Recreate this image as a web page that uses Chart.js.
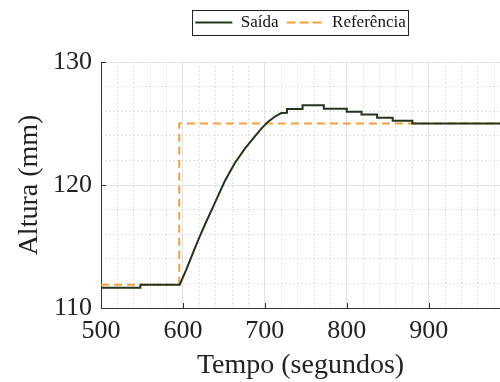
<!DOCTYPE html>
<html>
<head>
<meta charset="utf-8">
<script src="https://cdn.jsdelivr.net/npm/chart.js@4.4.0/dist/chart.umd.min.js"></script>
<style>
    html, body { margin: 0; padding: 0; background: #fff; }
    #wrap { width: 500px; height: 382px; position: relative; }
</style>
</head>
<body>
<div id="wrap"><canvas id="chart"></canvas></div>
<script>
const tempoSaida = [500, 548, 548, 596, 604, 612, 620, 628, 639, 651, 663, 675.6, 687.8, 696, 704,
    712, 720, 727, 727, 746, 746, 772, 772, 800, 800, 818, 818, 837, 837, 856, 856, 880, 880, 990]
const saida = [111.65, 111.65, 111.9, 111.9, 113.1, 114.45, 115.75, 116.95, 118.55, 120.3, 121.75, 122.95, 123.95, 124.6, 125.15,
    125.55, 125.85, 125.87, 126.17, 126.17, 126.49, 126.49, 126.19, 126.19, 125.95, 125.95, 125.73, 125.73, 125.46, 125.46,
    125.22, 125.22, 125.0, 125.0]

// reference step
const tempoRef = [500, 595.5, 595.5, 990]
const referencia = [111.9, 111.9, 125, 125]

// ticks
const xTicks = [500, 600, 700, 800, 900]
const xMinorTicks = [520, 540, 560, 580, 620, 640, 660, 680, 720, 740, 760, 780, 820, 840, 860, 880, 920, 940, 960, 980]
const yTicks = [110, 120, 130]
const yMinorTicks = [112, 114, 116, 118, 122, 124, 126, 128]

const serif = 'Liberation Serif'
const toPoints = (xs, ys) => xs.map((x, i) => ({ x: x, y: ys[i] }))
const setTicks = list => axis => { axis.ticks = list.map(v => ({ value: v })) }

// box around the legend and small inward ticks
const extras = {
    id: 'extras',
    afterDraw(chart) {
        const ctx = chart.ctx
        const boxes = chart.legend.legendHitBoxes
        if (boxes && boxes.length) {
            const left = Math.min(...boxes.map(b => b.left)) - 3
            const right = Math.max(...boxes.map(b => b.left + b.width)) + 3
            const top = Math.min(...boxes.map(b => b.top)) - 4
            const bottom = Math.max(...boxes.map(b => b.top + b.height)) + 4
            ctx.save()
            ctx.strokeStyle = '#222'
            ctx.lineWidth = 1
            ctx.strokeRect(Math.round(left) + 0.5, Math.round(top) + 0.5, Math.round(right - left), Math.round(bottom - top))
            ctx.restore()
        }
        const { x, y } = chart.scales
        const area = chart.chartArea
        ctx.save()
        ctx.strokeStyle = '#333'
        ctx.lineWidth = 1
        ctx.beginPath()
        xTicks.forEach(v => {
            const px = Math.round(x.getPixelForValue(v)) + 0.5
            ctx.moveTo(px, area.bottom)
            ctx.lineTo(px, area.bottom - 5)
        })
        yTicks.forEach(v => {
            const py = Math.round(y.getPixelForValue(v)) + 0.5
            ctx.moveTo(area.left, py)
            ctx.lineTo(area.left + 5, py)
        })
        ctx.stroke()
        ctx.restore()
    }
}

new Chart(document.getElementById('chart'), {
    type: 'line',
    data: {
        datasets: [
            {
                label: 'Saída',
                data: toPoints(tempoSaida, saida),
                borderColor: '#24361a',
                backgroundColor: 'transparent',
                borderWidth: 2,
                pointRadius: 0,
                tension: 0
            },
            {
                label: 'Referência',
                data: toPoints(tempoRef, referencia),
                borderColor: '#f2a03d',
                backgroundColor: 'transparent',
                borderWidth: 2,
                borderDash: [8, 5],
                pointRadius: 0,
                tension: 0
            }
        ]
    },
    options: {
        responsive: true,
        maintainAspectRatio: false,
        animation: false,
        layout: { padding: { top: 6, right: 0, bottom: 0, left: 0 } },
        plugins: {
            tooltip: { enabled: false },
            legend: {
                position: 'top',
                fullSize: false,
                labels: {
                    boxWidth: 37,
                    boxHeight: 0,
                    padding: 8,
                    color: '#111',
                    font: { family: serif, size: 17 }
                }
            },
            // empty spacer between the legend and the plot
            subtitle: {
                display: true,
                text: '',
                position: 'top',
                weight: 500,
                fullSize: false,
                padding: { top: 0, bottom: 0 },
                font: { size: 17.5, lineHeight: 1.2 }
            }
        },
        scales: {
            x: {
                type: 'linear',
                min: 500,
                max: 987,
                afterBuildTicks: setTicks(xTicks),
                afterFit: scale => { scale.height = 74 },
                grid: { color: '#e2e2e2', lineWidth: 1, drawTicks: false },
                border: { color: '#333', width: 1 },
                ticks: { color: '#222', padding: 8, font: { family: serif, size: 26 } },
                title: {
                    display: true,
                    text: 'Tempo (segundos)',
                    color: '#222',
                    padding: { top: 0, bottom: 0 },
                    font: { family: serif, size: 28 }
                }
            },
            xMinor: {
                type: 'linear',
                position: 'bottom',
                min: 500,
                max: 987,
                afterBuildTicks: setTicks(xMinorTicks),
                afterFit: scale => { scale.height = 0 },
                grid: { color: '#d8d8d8', lineWidth: 1, drawTicks: false },
                border: { display: false, dash: [1.5, 2.5] },
                ticks: { display: false }
            },
            y: {
                type: 'linear',
                min: 110,
                max: 130,
                afterBuildTicks: setTicks(yTicks),
                afterFit: scale => { scale.width = 101 },
                grid: { color: '#e2e2e2', lineWidth: 1, drawTicks: false },
                border: { color: '#333', width: 1 },
                ticks: { color: '#222', padding: 9, font: { family: serif, size: 26 } },
                title: {
                    display: true,
                    text: 'Altura (mm)',
                    color: '#222',
                    padding: { top: 13, bottom: 0 },
                    font: { family: serif, size: 28 }
                }
            },
            yMinor: {
                type: 'linear',
                position: 'left',
                min: 110,
                max: 130,
                afterBuildTicks: setTicks(yMinorTicks),
                afterFit: scale => { scale.width = 0 },
                grid: { color: '#d8d8d8', lineWidth: 1, drawTicks: false },
                border: { display: false, dash: [1.5, 2.5] },
                ticks: { display: false }
            }
        }
    },
    plugins: [extras]
})
</script>
</body>
</html>
